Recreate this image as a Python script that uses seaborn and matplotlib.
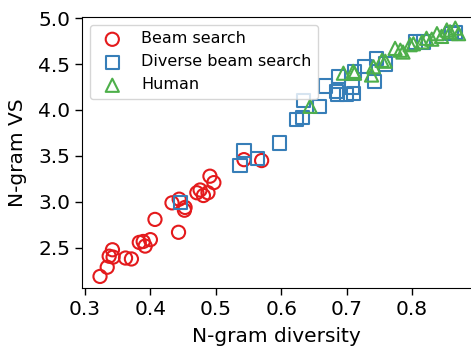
import matplotlib
matplotlib.use("Agg")
import matplotlib.pyplot as plt
import seaborn as sns
import pandas as pd

beam_x = [0.323, 0.334, 0.337, 0.342, 0.343, 0.362, 0.371, 0.383, 0.389, 0.392,
          0.400, 0.407, 0.433, 0.444, 0.443, 0.453, 0.452, 0.471, 0.476, 0.481,
          0.488, 0.491, 0.497, 0.543, 0.570]
beam_y = [2.19, 2.29, 2.41, 2.48, 2.40, 2.39, 2.38, 2.56, 2.57, 2.52,
          2.59, 2.81, 2.99, 3.03, 2.67, 2.94, 2.91, 3.10, 3.13, 3.07,
          3.10, 3.28, 3.21, 3.46, 3.45]

dbs_x = [0.446, 0.543, 0.537, 0.564, 0.597, 0.623, 0.633, 0.634, 0.658, 0.667,
         0.686, 0.700, 0.687, 0.708, 0.710, 0.685, 0.743, 0.728, 0.746, 0.759,
         0.712, 0.805, 0.817, 0.866, 0.860]
dbs_y = [2.99, 3.56, 3.40, 3.47, 3.64, 3.90, 3.92, 4.10, 4.04, 4.26,
         4.17, 4.17, 4.36, 4.25, 4.18, 4.20, 4.31, 4.47, 4.56, 4.50,
         4.42, 4.74, 4.74, 4.84, 4.83]

hum_x = [0.644, 0.695, 0.710, 0.712, 0.738, 0.741, 0.754, 0.759, 0.774, 0.782,
         0.786, 0.797, 0.802, 0.815, 0.822, 0.830, 0.838, 0.845, 0.853, 0.858,
         0.866, 0.871]
hum_y = [4.04, 4.40, 4.42, 4.40, 4.38, 4.47, 4.54, 4.53, 4.67, 4.65,
         4.63, 4.71, 4.72, 4.74, 4.78, 4.77, 4.83, 4.80, 4.87, 4.85,
         4.89, 4.83]

groups = [
    ("Beam search", beam_x, beam_y, "o", "#e41a1c"),
    ("Diverse beam search", dbs_x, dbs_y, "s", "#377eb8"),
    ("Human", hum_x, hum_y, "^", "#4daf4a"),
]

fig = plt.figure(figsize=(4.71, 3.49), dpi=100)
ax = fig.add_axes([0.174, 0.175, 0.826, 0.776])

for name, xs, ys, mk, col in groups:
    df = pd.DataFrame({"x": xs, "y": ys})
    sns.scatterplot(data=df, x="x", y="y", marker=mk, s=90,
                    facecolors="none", edgecolor=col, linewidth=1.5,
                    label=name, ax=ax)

ax.set_xlim(0.2954, 0.890)
ax.set_ylim(2.065, 5.01)
ax.set_xticks([0.3, 0.4, 0.5, 0.6, 0.7, 0.8])
ax.set_yticks([2.5, 3.0, 3.5, 4.0, 4.5, 5.0])
ax.tick_params(labelsize=14.5, length=5, width=1.0)
ax.set_xlabel("N-gram diversity", fontsize=14.5, labelpad=6)
ax.set_ylabel("N-gram VS", fontsize=14.5, labelpad=8)
ax.spines["right"].set_visible(False)
ax.legend(loc="upper left", fontsize=11.5)

fig.savefig("out.png", dpi=100)
